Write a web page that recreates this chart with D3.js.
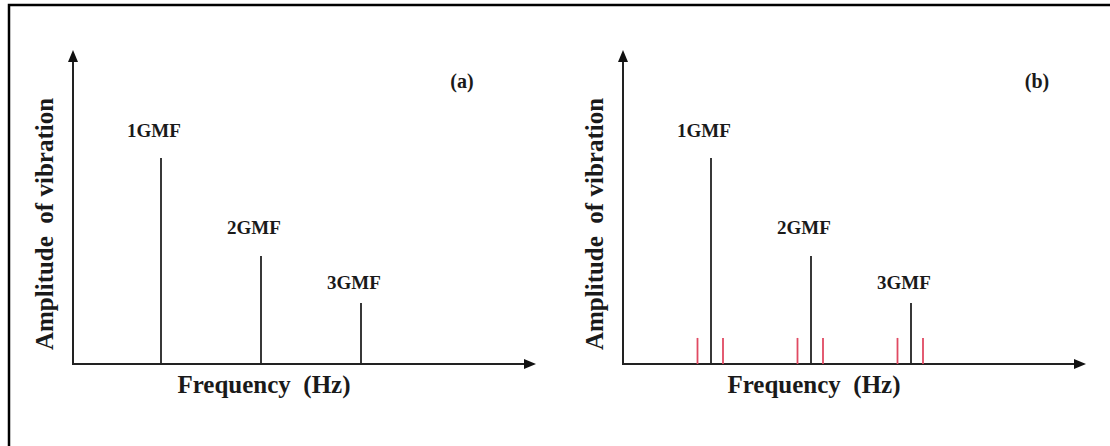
<!DOCTYPE html>
<html>
<head>
<meta charset="utf-8">
<script src="https://cdn.jsdelivr.net/npm/d3@7"></script>
<style>
  body { margin: 0; background: #fff; }
  text { font-family: "Liberation Serif", "Times New Roman", serif; font-weight: bold; fill: #1a1a1a; }
</style>
</head>
<body>
<script>
// gear mesh spectrum: (a) healthy, (b) with sidebands
var harmonics = ['1GMF', '2GMF', '3GMF'];
var gmfFreq = [1, 2, 3];              // multiples of gear mesh frequency
var gmfAmp = [6.56, 3.44, 1.94];      // arbitrary amplitude units, axis top = 10
var sidebandOffset = [-0.135, 0.12];  // relative to each GMF
var sidebandAmp = 0.83;
var panelTags = ['(a)', '(b)'];
var xTitle = 'Frequency  (Hz)';
var yTitle = 'Amplitude  of vibration';

var W = 1110, H = 446;
var svg = d3.select('body').append('svg')
    .attr('width', W)
    .attr('height', H);

// outer frame (only top and left visible in the crop)
svg.append('path')
  .attr('d', 'M9,' + H + 'V5H' + W)
  .attr('fill', 'none')
  .attr('stroke', '#000')
  .attr('stroke-width', 2.5);

var x = d3.scaleLinear().domain([0.12, 4.75]).range([0, 463]);
var y = d3.scaleLinear().domain([0, 10]).range([364, 50]);

var labelGap = [21, 22, 14];
var panels = [
  { left: 73, tagX: 389, sidebands: false },
  { left: 623, tagX: 414, sidebands: true }
];

panels.forEach(function(p, pi) {
  var g = svg.append('g').attr('transform', 'translate(' + p.left + ',0)');
  var x0 = x.range()[0], x1 = x.range()[1];
  var yb = y.range()[0], yt = y.range()[1];

  // axes without ticks
  var xAxis = d3.axisBottom(x).tickValues([]).tickSizeOuter(0);
  var yAxis = d3.axisLeft(y).tickValues([]).tickSizeOuter(0);
  g.append('g')
    .attr('transform', 'translate(0,' + yb + ')')
    .call(xAxis)
    .select('.domain')
      .attr('d', 'M' + x0 + ',0H' + (x1 - 8))
      .attr('stroke', '#222')
      .attr('stroke-width', 2);
  g.append('g')
    .attr('transform', 'translate(' + x0 + ',0)')
    .call(yAxis)
    .select('.domain')
      .attr('d', 'M0,' + (yb + 1) + 'V' + (yt + 8))
      .attr('stroke', '#222')
      .attr('stroke-width', 2);

  // arrowheads
  g.append('path')
    .attr('d', 'M' + x1 + ',' + yb + 'l-12,-5v10z')
    .attr('fill', '#111');
  g.append('path')
    .attr('d', 'M' + x0 + ',' + yt + 'l-5,12h10z')
    .attr('fill', '#111');

  // sidebands
  if (p.sidebands) {
    var sb = [];
    gmfFreq.forEach(function(f) {
      sidebandOffset.forEach(function(o) { sb.push(f + o); });
    });
    g.selectAll('line.sb')
      .data(sb)
      .enter().append('line')
        .attr('class', 'sb')
        .attr('x1', function(d) { return x(d); })
        .attr('x2', function(d) { return x(d); })
        .attr('y1', y(0))
        .attr('y2', y(sidebandAmp))
        .attr('stroke', '#e04a62')
        .attr('stroke-width', 1.8);
  }

  // GMF peaks
  g.selectAll('line.peak')
    .data(gmfFreq)
    .enter().append('line')
      .attr('class', 'peak')
      .attr('x1', function(d) { return x(d); })
      .attr('x2', function(d) { return x(d); })
      .attr('y1', y(0))
      .attr('y2', function(d, i) { return y(gmfAmp[i]); })
      .attr('stroke', '#222')
      .attr('stroke-width', 1.8);

  g.selectAll('text.peak')
    .data(harmonics)
    .enter().append('text')
      .attr('class', 'peak')
      .attr('x', function(d, i) { return x(gmfFreq[i]) - 7; })
      .attr('y', function(d, i) { return y(gmfAmp[i]) - labelGap[i]; })
      .attr('text-anchor', 'middle')
      .attr('font-size', 19)
      .text(function(d) { return d; });

  g.append('text')
    .attr('x', p.tagX)
    .attr('y', 88)
    .attr('text-anchor', 'middle')
    .attr('font-size', 20)
    .text(panelTags[pi]);

  g.append('text')
    .attr('x', 191)
    .attr('y', 393)
    .attr('text-anchor', 'middle')
    .attr('font-size', 25)
    .style('white-space', 'pre')
    .text(xTitle);

  g.append('text')
    .attr('transform', 'translate(-20,224) rotate(-90)')
    .attr('text-anchor', 'middle')
    .attr('font-size', 25)
    .style('white-space', 'pre')
    .text(yTitle);
});
</script>
</body>
</html>
